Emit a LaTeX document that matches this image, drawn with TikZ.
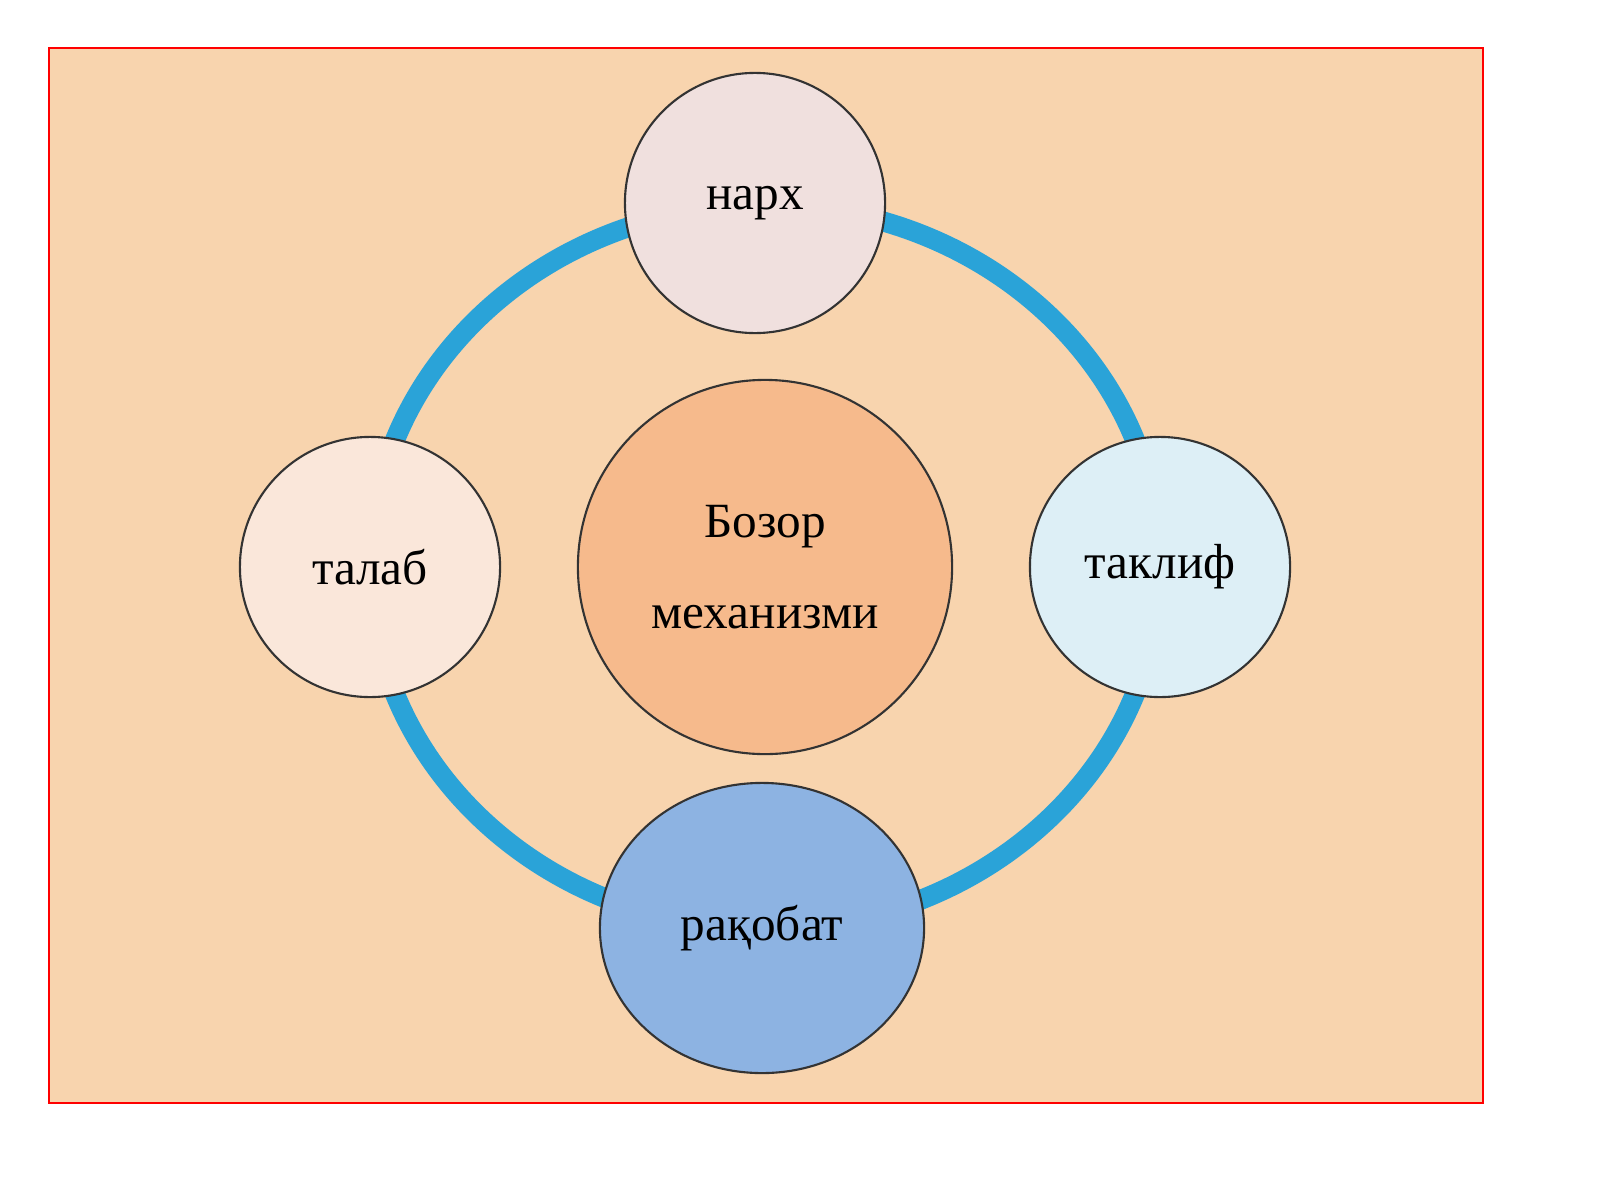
\documentclass[tikz,border=0pt]{standalone}
\usepackage{fontspec}
\setmainfont{Liberation Serif}
\usetikzlibrary{shapes.geometric}
\definecolor{peach}{HTML}{F8D4AE}
\definecolor{ringblue}{HTML}{2AA3D8}
\definecolor{pricefill}{HTML}{F0E0DE}
\definecolor{demandfill}{HTML}{FAE7DA}
\definecolor{supplyfill}{HTML}{DDEFF6}
\definecolor{competefill}{HTML}{8DB3E2}
\definecolor{marketfill}{HTML}{F6BA8C}
\tikzset{bubble/.style={circle,draw=black!80,line width=0.6pt,minimum size=2.6cm,inner sep=0pt,align=center,font=\fontsize{14}{17}\selectfont},
  ring/.style={draw=ringblue,line width=0.2cm}}
\begin{document}
\begin{tikzpicture}[x=0.01cm,y=-0.01cm]
\useasboundingbox (0,0) rectangle (1600,1200);
\fill[white] (0,0) rectangle (1600,1200);
\draw[red,fill=peach,line width=0.6pt] (49,48) rectangle (1483,1103);
% ring
\draw[ring] (765,567) ellipse [x radius=395, y radius=362];
\node[bubble,fill=pricefill] (price) at (755,203) {нарх};
\node[bubble,fill=demandfill] (demand) at (370,567) {талаб};
\node[bubble,fill=supplyfill] (supply) at (1160,567) {таклиф};
\node[bubble,ellipse,minimum width=3.24cm,minimum height=2.9cm,fill=competefill] (compete) at (762,928) {рақобат};
\node[bubble,minimum size=3.74cm,fill=marketfill,font=\fontsize{14}{26}\selectfont] (market) at (765,567) {Бозор\\механизми};
\end{tikzpicture}
\end{document}
